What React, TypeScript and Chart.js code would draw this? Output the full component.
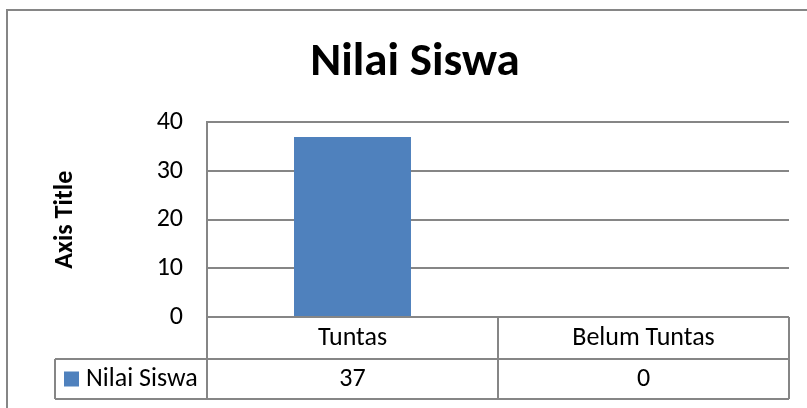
import React, { useEffect, useRef } from 'react';
import { Chart, registerables } from 'chart.js';

Chart.register(...registerables);

const chartTitle = 'Nilai Siswa';
const yAxisTitle = 'Axis Title';
const seriesName = 'Nilai Siswa';
const categories = ['Tuntas', 'Belum Tuntas'];
const values = [37, 0];
const yMin = 0;
const yMax = 40;
const yStep = 10;

const FONT = "Carlito, Lato, 'Open Sans', sans-serif";
const GRID = '#868686';
const BAR = '#4F81BD';

const framePlugin = {
  id: 'frame',
  beforeDraw(chart: any) {
    const { ctx } = chart;
    ctx.save();
    ctx.fillStyle = '#ffffff';
    ctx.fillRect(0, 0, chart.width, chart.height);
    ctx.strokeStyle = GRID;
    ctx.lineWidth = 2;
    ctx.strokeRect(7, 10, chart.width + 20, chart.height + 20);
    ctx.restore();
  },
};

const tablePlugin = {
  id: 'dataTable',
  afterDraw(chart: any) {
    const { ctx, chartArea } = chart;
    const x = chart.scales.x;
    const top = chartArea.bottom;
    const mid = top + 42;
    const bottom = top + 82;
    const left = chartArea.left;
    const right = chartArea.right;
    const legendLeft = 55;
    const p0 = x.getPixelForValue(0);
    const p1 = x.getPixelForValue(1);
    const sep = (p0 + p1) / 2;
    ctx.save();
    ctx.strokeStyle = GRID;
    ctx.lineWidth = 2;
    ctx.beginPath();
    ctx.moveTo(legendLeft, mid);
    ctx.lineTo(right, mid);
    ctx.moveTo(legendLeft, bottom);
    ctx.lineTo(right, bottom);
    ctx.moveTo(left, top);
    ctx.lineTo(left, bottom);
    ctx.moveTo(sep, top);
    ctx.lineTo(sep, bottom);
    ctx.moveTo(right, top);
    ctx.lineTo(right, bottom);
    ctx.moveTo(legendLeft, mid);
    ctx.lineTo(legendLeft, bottom);
    ctx.stroke();

    const rowY = (mid + bottom) / 2;
    ctx.fillStyle = BAR;
    ctx.fillRect(64, rowY - 7.5, 15, 15);
    ctx.fillStyle = '#000';
    ctx.font = `26px ${FONT}`;
    ctx.textBaseline = 'middle';
    ctx.textAlign = 'left';
    ctx.fillText(seriesName, 86, rowY);
    ctx.textAlign = 'center';
    values.forEach((v, i) => {
      ctx.fillText(String(v), x.getPixelForValue(i), rowY);
    });
    ctx.restore();
  },
};

export default function App() {
  const ref = useRef<HTMLCanvasElement>(null);
  useEffect(() => {
    document.body.style.margin = '0';
    const chart = new Chart(ref.current!, {
      type: 'bar',
      data: {
        labels: categories,
        datasets: [
          {
            label: seriesName,
            data: values,
            backgroundColor: BAR,
            categoryPercentage: 1,
            barPercentage: 0.402,
          },
        ],
      },
      options: {
        responsive: false,
        animation: false,
        layout: { padding: { left: 41, right: 18, top: 0, bottom: 9 } },
        plugins: {
          legend: { display: false },
          tooltip: { enabled: false },
          title: {
            display: true,
            text: chartTitle,
            color: '#000',
            font: { family: FONT, size: 47, weight: 'bold' },
            padding: { top: 35, bottom: 31 },
          },
        },
        scales: {
          x: {
            grid: { display: false, drawTicks: false },
            border: { display: false },
            ticks: {
              color: '#000',
              font: { family: FONT, size: 26 },
              padding: 6,
              maxRotation: 0,
              autoSkip: false,
            },
            afterFit(scale: any) {
              scale.height = 82;
            },
          },
          y: {
            min: yMin,
            max: yMax,
            grid: { color: GRID, lineWidth: 2, drawTicks: false },
            border: { display: true, color: GRID, width: 2 },
            ticks: {
              stepSize: yStep,
              color: '#000',
              font: { family: FONT, size: 26 },
              padding: 24,
            },
            title: {
              display: true,
              text: yAxisTitle,
              color: '#000',
              font: { family: FONT, size: 26, weight: 'bold' },
              padding: { top: 9, bottom: 0 },
            },
            afterFit(scale: any) {
              scale.width = 166;
            },
          },
        },
      },
      plugins: [framePlugin, tablePlugin],
    });
    return () => chart.destroy();
  }, []);
  return (
    <div style={{ width: 807, height: 408 }}>
      <canvas ref={ref} width={807} height={408} style={{ display: 'block' }} />
    </div>
  );
}
